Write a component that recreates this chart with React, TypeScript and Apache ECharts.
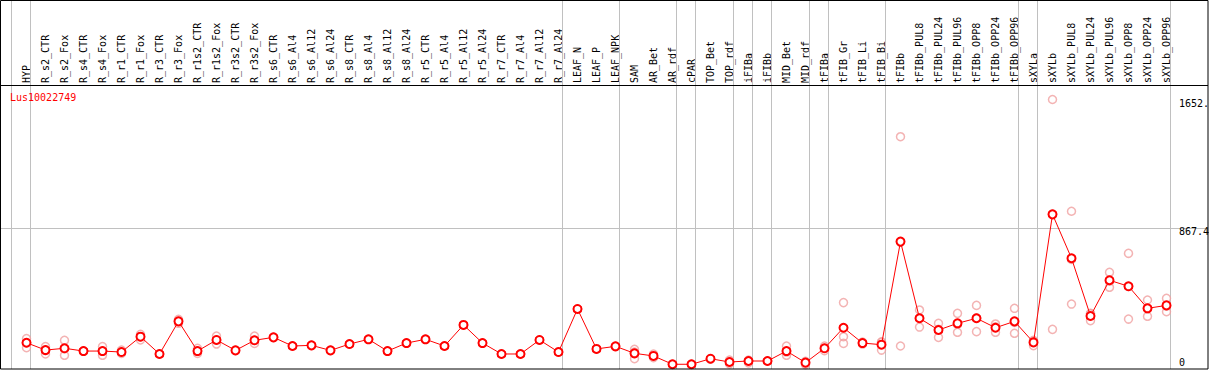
import React, { useEffect, useRef } from "react";
import * as echarts from "echarts";

const title = "Lus10022749";

const categories = [
  "HYP",
  "R_s2_CTR", "R_s2_Fox", "R_s4_CTR", "R_s4_Fox", "R_r1_CTR", "R_r1_Fox", "R_r3_CTR", "R_r3_Fox",
  "R_r1s2_CTR", "R_r1s2_Fox", "R_r3s2_CTR", "R_r3s2_Fox",
  "R_s6_CTR", "R_s6_Al4", "R_s6_Al12", "R_s6_Al24",
  "R_s8_CTR", "R_s8_Al4", "R_s8_Al12", "R_s8_Al24",
  "R_r5_CTR", "R_r5_Al4", "R_r5_Al12", "R_r5_Al24",
  "R_r7_CTR", "R_r7_Al4", "R_r7_Al12", "R_r7_Al24",
  "LEAF_N", "LEAF_P", "LEAF_NPK",
  "SAM", "AR_Bet", "AR_rdf", "cPAR", "TOP_Bet", "TOP_rdf", "iFIBa", "iFIBb", "MID_Bet", "MID_rdf",
  "tFIBa", "tFIB_Gr", "tFIB_Li", "tFIB_Bi",
  "tFIBb", "tFIBb_PUL8", "tFIBb_PUL24", "tFIBb_PUL96", "tFIBb_OPP8", "tFIBb_OPP24", "tFIBb_OPP96",
  "sXYLa",
  "sXYLb", "sXYLb_PUL8", "sXYLb_PUL24", "sXYLb_PUL96", "sXYLb_OPP8", "sXYLb_OPP24", "sXYLb_OPP96",
];

const means = [
  161,
  116, 127, 110, 110, 104, 198, 92, 292,
  110, 178, 114, 176,
  194, 141, 145, 114,
  153, 182, 110, 159,
  182, 141, 270, 159,
  92, 92, 178, 104,
  368, 123, 139,
  96, 80, 29, 29, 63, 43, 49, 49, 110, 39,
  127, 253, 159, 149,
  781, 311, 239, 280, 311, 253, 292,
  163,
  948, 679, 325, 544, 507, 372, 390,
];

const replicates = [
  [186, 161, 131],
  [137, 116, 92], [176, 124, 84], [110, 110], [137, 110, 84], [116, 104, 96], [213, 198, 178], [92], [305, 292, 280],
  [127, 110, 96], [202, 178, 153], [114], [202, 176, 157],
  [194], [141], [145], [114],
  [153], [182], [110], [159],
  [182], [141], [270], [159],
  [92], [92], [178], [104],
  [368], [123], [139],
  [121, 104, 63], [92, 80, 70], [29], [29], [63, 60], [55, 43, 31], [55, 49, 37], [49], [141, 104, 84], [47, 39, 27],
  [141, 127, 112], [407, 198, 157], [165, 159, 153], [166, 164, 116],
  [1424, 778, 141], [362, 313, 257], [280, 243, 194], [341, 274, 225], [390, 314, 229], [276, 258, 225], [372, 285, 219],
  [170, 176, 143],
  [1652, 949, 243], [967, 672, 398], [341, 338, 296], [593, 538, 501], [709, 506, 306], [423, 370, 323], [433, 386, 351],
];

const groupEnds = [
  "HYP", "R_r7_Al24", "LEAF_NPK", "AR_rdf", "cPAR", "TOP_rdf", "iFIBa", "iFIBb", "MID_rdf",
  "tFIBa", "tFIB_Bi", "tFIBb_OPP96", "sXYLa", "sXYLb_OPP96",
];

const yMax = 1734.8;
const gridValue = 867.4;
const yTickValues = [0, 867.4, 1652];
const yTickLabels = ["0", "867.4", "1652."];

export default function App() {
  const ref = useRef<HTMLDivElement>(null);

  useEffect(() => {
    document.body.style.margin = "0";
    const chart = echarts.init(ref.current!, null, { renderer: "svg" });
    const fontFamily = "'DejaVu Sans Mono', monospace";
    const font = "10px 'DejaVu Sans Mono', monospace";

    const repData: number[][] = [];
    replicates.forEach((r, i) => r.forEach((v) => repData.push([i, v])));

    chart.setOption({
      animation: false,
      grid: { left: 17, top: 86, width: 1159, height: 283 },
      xAxis: {
        type: "category",
        position: "top",
        data: categories,
        boundaryGap: true,
        axisLine: { show: false },
        axisTick: { show: false },
        splitLine: { show: false },
        axisLabel: { interval: 0, rotate: 90, margin: 3, fontFamily, fontSize: 10, color: "#000" },
      },
      yAxis: { type: "value", min: 0, max: yMax, show: false, splitLine: { show: false } },
      series: [
        {
          type: "scatter",
          data: repData,
          symbol: "circle",
          symbolSize: 8,
          itemStyle: { color: "rgba(0,0,0,0)", borderColor: "#f0a0a0", borderWidth: 1.5 },
          z: 3,
        },
        {
          type: "line",
          data: means,
          symbol: "emptyCircle",
          symbolSize: 8,
          lineStyle: { color: "#ff0000", width: 1 },
          itemStyle: { color: "#ff0000", borderWidth: 1.5 },
          z: 4,
        },
      ],
    });

    const px = (i: number) => chart.convertToPixel({ xAxisIndex: 0 }, i) as number;
    const py = (v: number) => chart.convertToPixel({ yAxisIndex: 0 }, v) as number;
    const step = px(1) - px(0);

    const elements: any[] = [];
    const sepIdx = [-1, ...groupEnds.map((g) => categories.indexOf(g))];
    sepIdx.forEach((idx) => {
      const cx = idx < 0 ? px(0) + idx * step : px(idx);
      const x = Math.floor(cx + 4) + 0.5;
      elements.push({
        type: "line",
        silent: true,
        z: 1,
        shape: { x1: x, y1: 0, x2: x, y2: 369 },
        style: { stroke: "#c0c0c0", lineWidth: 1 },
      });
    });
    const gy = Math.round(py(gridValue)) + 0.5;
    elements.push({
      type: "line",
      silent: true,
      z: 1,
      shape: { x1: 0, y1: gy, x2: 1208, y2: gy },
      style: { stroke: "#c0c0c0", lineWidth: 1 },
    });
    yTickValues.forEach((v, k) => {
      const y = py(v);
      const isZero = v === 0;
      elements.push({
        type: "text",
        silent: true,
        z: 50,
        x: 1179,
        y: isZero ? y - 2 : y - 1,
        style: {
          text: yTickLabels[k],
          font,
          fill: "#000",
          align: "left",
          verticalAlign: isZero ? "bottom" : "top",
        },
      });
    });
    elements.push({
      type: "text",
      silent: true,
      z: 50,
      x: 10,
      y: 92,
      style: { text: title, font, fill: "#ff0000", align: "left", verticalAlign: "top" },
    });
    elements.push({
      type: "rect",
      silent: true,
      z: 100,
      shape: { x: 0.5, y: 0.5, width: 1207.5, height: 368.5 },
      style: { fill: "none", stroke: "#000", lineWidth: 1 },
    });
    elements.push({
      type: "line",
      silent: true,
      z: 100,
      shape: { x1: 0, y1: 85.5, x2: 1208, y2: 85.5 },
      style: { stroke: "#000", lineWidth: 1 },
    });

    chart.setOption({ graphic: elements });

    return () => chart.dispose();
  }, []);

  return <div ref={ref} style={{ width: 1209, height: 370 }} />;
}
